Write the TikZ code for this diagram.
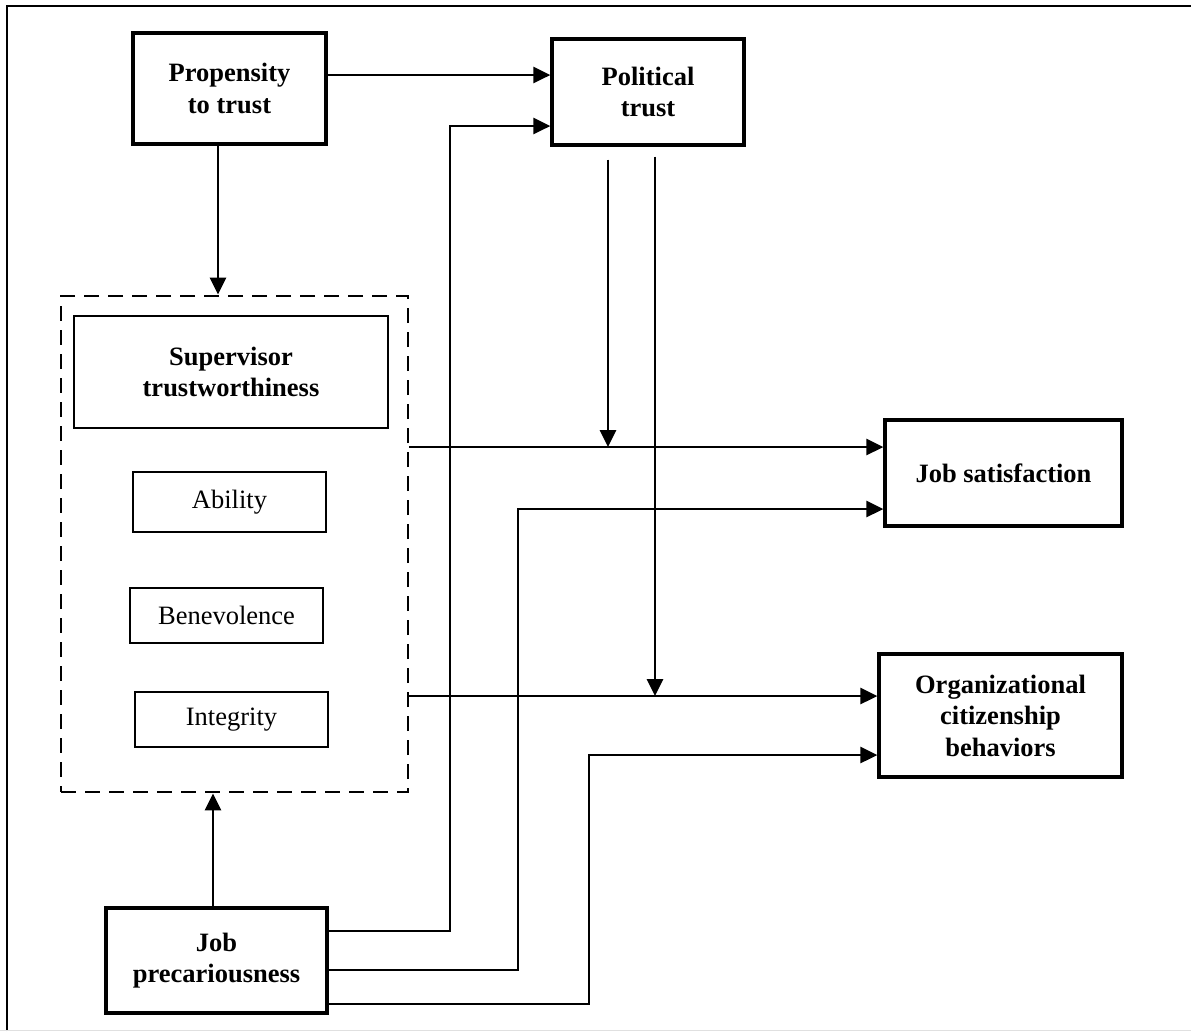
\documentclass[tikz,border=0pt]{standalone}
\usepackage{fontspec}
\setmainfont{Liberation Serif}
\usetikzlibrary{arrows.meta,calc}
\begin{document}
\begin{tikzpicture}[x=1pt,y=-1pt,
  box/.style={draw,line width=3.2pt,align=center,inner sep=0pt,font=\fontsize{26.5}{31.5}\selectfont\bfseries},
  subbox/.style={draw,line width=2.8pt,align=center,inner sep=0pt,font=\fontsize{26.5}{31.5}\selectfont},
  thinbox/.style={draw,line width=1.5pt,align=center,inner sep=0pt,font=\fontsize{26.5}{31.5}\selectfont\bfseries},
  grp/.style={draw,dash pattern=on 15pt off 9pt,line width=2.8pt,inner sep=0pt},
  arr/.style={line width=2.8pt,-{Triangle[length=17pt,width=16pt]}},
  conn/.style={line width=2.8pt}]
\useasboundingbox (0,0) rectangle (1191,1031);
% frame
\draw[line width=2.8pt] (7,1031) -- (7,6) -- (1191,6);
\draw[line width=1pt,black!12] (0,1030) -- (1191,1030);

% nodes
\node[box,minimum width=193pt,minimum height=111pt] (prop) at (229.5,88.5) {Propensity\\to trust};
\node[box,minimum width=192pt,minimum height=106pt] (pol) at (648,92) {Political\\trust};
\node[grp,minimum width=347pt,minimum height=496pt] (grp) at (234.5,544) {};
\node[thinbox,minimum width=314pt,minimum height=112pt] (sup) at (231,372) {Supervisor\\trustworthiness};
\node[subbox,minimum width=193pt,minimum height=60pt] (abil) at (229.5,502) {Ability};
\node[subbox,minimum width=193pt,minimum height=55pt] (bene) at (226.5,615.5) {Benevolence};
\node[subbox,minimum width=193pt,minimum height=55pt] (integ) at (231.5,719.5) {Integrity};
\node[box,minimum width=237pt,minimum height=106pt] (js) at (1003.5,473) {Job satisfaction};
\node[box,minimum width=243pt,minimum height=123pt] (ocb) at (1000.5,715.5) {Organizational\\citizenship\\behaviors};
\node[box,minimum width=221pt,minimum height=105pt] (job) at (216.5,960.5) {Job\\precariousness};

% helper columns
\coordinate (xa) at (450,0);
\coordinate (xb) at (518,0);
\coordinate (xc) at (589,0);
\coordinate (polin) at ([yshift=-34pt]pol.west);
\coordinate (jsin1) at ([yshift=26pt]js.west);
\coordinate (jsin2) at ([yshift=-36pt]js.west);
\coordinate (ocbin1) at ([yshift=19.5pt]ocb.west);
\coordinate (ocbin2) at ([yshift=-39.5pt]ocb.west);

% connectors
\draw[arr] ([yshift=17pt,xshift=-3pt]pol.west -| prop.east) -- ([yshift=17pt]pol.west);
\draw[arr] ([xshift=-11.5pt]prop.south) -- ([xshift=-11.5pt]prop.south |- grp.north);
\draw[arr] ([xshift=-3.5pt]job.north) -- ([xshift=-3.5pt]job.north |- grp.south);
\draw[arr] (jsin1 -| grp.east) -- (jsin1);
\draw[arr] (ocbin1 -| grp.east) -- (ocbin1);
\draw[arr] ([xshift=-40pt,yshift=-13pt]pol.south) -- ([xshift=-40pt]pol.south |- jsin1);
\draw[arr] ([xshift=7pt,yshift=-10pt]pol.south) -- ([xshift=7pt]pol.south |- ocbin1);
\draw[arr] ([yshift=29.5pt]job.east) -| (xa |- polin) -- (polin);
\draw[arr] ([yshift=-9.5pt]job.east) -| (xb |- jsin2) -- (jsin2);
\draw[arr] ([yshift=-43.5pt]job.east) -| (xc |- ocbin2) -- (ocbin2);
\end{tikzpicture}
\end{document}
